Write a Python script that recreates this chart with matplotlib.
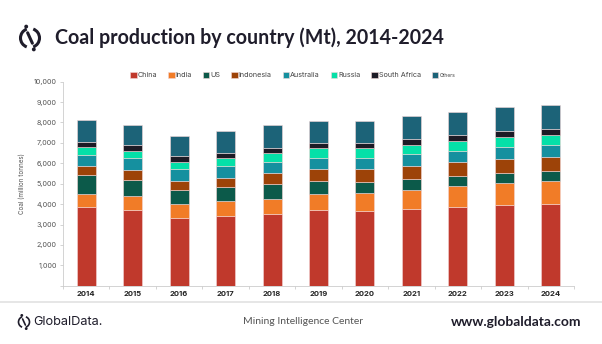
import numpy as np
import matplotlib.pyplot as plt
from matplotlib.patches import Arc, Circle

years = ['2014', '2015', '2016', '2017', '2018', '2019', '2020', '2021', '2022', '2023', '2024']
countries = ['China', 'India', 'US', 'Indonesia', 'Australia', 'Russia', 'South Africa', 'Others']

# production in million tonnes, one list per country
china = [3856, 3726, 3333, 3431, 3513, 3726, 3677, 3758, 3856, 3954, 4020]
india = [654, 670, 687, 703, 752, 768, 849, 948, 1013, 1079, 1094]
us = [899, 800, 686, 703, 719, 637, 556, 523, 507, 490, 507]
indonesia = [457, 474, 441, 457, 523, 588, 637, 653, 686, 686, 686]
australia = [556, 572, 572, 556, 555, 556, 556, 572, 556, 588, 588]
russia = [359, 376, 359, 392, 441, 457, 457, 441, 474, 507, 507]
south_africa = [262, 261, 262, 245, 245, 262, 262, 278, 277, 278, 278]
others = [1078, 1013, 1013, 1095, 1144, 1094, 1094, 1144, 1144, 1176, 1160]

series = [china, india, us, indonesia, australia, russia, south_africa, others]
colors = ['#c0392c', '#f17c27', '#0c5a4a', '#9d4308', '#15909f', '#05e0a8', '#1c1b26', '#1c6378']

W, H = 602, 344
fig = plt.figure(figsize=(W / 100, H / 100), dpi=100)
fig.patch.set_facecolor('white')


def px(x, y):
    return x / W, 1 - y / H


ax = fig.add_axes([63 / W, 1 - 285.7 / H, 511 / W, 204 / H])
x = np.arange(len(years))
bottom = np.zeros(len(years))
for name, vals, c in zip(countries, series, colors):
    ax.bar(x, vals, 0.41, bottom=bottom, color=c, label=name,
           edgecolor='#f3d6d6', linewidth=0.4)
    bottom += np.array(vals)

ax.set_xlim(-0.5, len(years) - 0.5)
ax.set_ylim(0, 10000)
ax.set_yticks(np.arange(0, 10001, 1000))
ax.set_yticklabels(['' if v == 0 else f'{v:,}' for v in range(0, 10001, 1000)],
                   fontsize=5.2, color='#555555', family='Inter')
ax.set_xticks(x)
ax.set_xticklabels(years, fontsize=5.5, fontweight='bold', color='#222222', family='Inter')
ax.set_xticks(np.arange(-0.5, len(years), 1), minor=True)
ax.tick_params(axis='x', which='major', length=0, pad=4)
ax.tick_params(axis='x', which='minor', length=2.5, color='#cccccc', width=0.6)
ax.tick_params(axis='y', length=2.5, color='#cccccc', width=0.6, pad=2)
for s in ['top', 'right']:
    ax.spines[s].set_visible(False)
for s in ['left', 'bottom']:
    ax.spines[s].set_color('#cccccc')
    ax.spines[s].set_linewidth(0.6)
ax.set_ylabel('Coal (million tonnes)', fontsize=4.5, color='#555555', family='Inter', labelpad=6)

# legend row above the bars
leg = fig.legend(*ax.get_legend_handles_labels(), loc='center left',
                 bbox_to_anchor=px(130, 75), ncol=8, frameon=False,
                 handlelength=0.9, handleheight=0.9, handletextpad=0.15,
                 columnspacing=1.5, borderaxespad=0, borderpad=0,
                 prop={'family': 'Inter', 'size': 5.2})
for t in leg.get_texts():
    t.set_color('#444444')
leg.get_texts()[-1].set_fontsize(3.6)

# title and logo
fig.text(*px(55, 38), 'Coal production by country (Mt), 2014-2024', fontsize=14.1,
         fontweight='bold', family='Lato', color='#1f1d2b', va='center', ha='left')


def logo(cx, cy, r, lw):
    a = fig.add_axes([0, 0, 1, 1], facecolor='none')
    a.set_xlim(0, W)
    a.set_ylim(H, 0)
    a.axis('off')
    a.add_patch(Arc((cx, cy), 2 * r, 2 * r, theta1=110, theta2=250, color='#1f1d2b', lw=lw))
    a.add_patch(Arc((cx, cy), 2 * r, 2 * r, theta1=-70, theta2=70, color='#1f1d2b', lw=lw))
    a.plot([cx - r * 0.25, cx + r * 0.25], [cy - r * 0.55, cy + r * 0.55], color='#1f1d2b', lw=lw,
           solid_capstyle='round')
    a.add_patch(Circle((cx - r * 0.4, cy - r * 1.2), r * 0.13, color='#1f1d2b'))
    a.add_patch(Circle((cx + r * 0.4, cy + r * 1.2), r * 0.13, color='#1f1d2b'))
    return a


logo(30, 38, 9.5, 2.2)
logo(24, 322, 5.5, 1.2)

# footer
line_ax = fig.add_axes([0, 0, 1, 1], facecolor='none')
line_ax.set_xlim(0, W)
line_ax.set_ylim(H, 0)
line_ax.axis('off')
line_ax.plot([0, W], [302, 302], color='#e2e2e2', lw=1.2)

fig.text(*px(33, 322), 'GlobalData.', fontsize=9.2, family='Inter', color='#1f1d2b', va='center')
fig.text(*px(243, 322), 'Mining Intelligence Center', fontsize=7.5, family='Lato',
         color='#555555', va='center')
fig.text(*px(451, 322), 'www.globaldata.com', fontsize=10, fontweight='bold', family='Lato',
         color='#1f1d2b', va='center')

fig.savefig('out.png', dpi=100)
